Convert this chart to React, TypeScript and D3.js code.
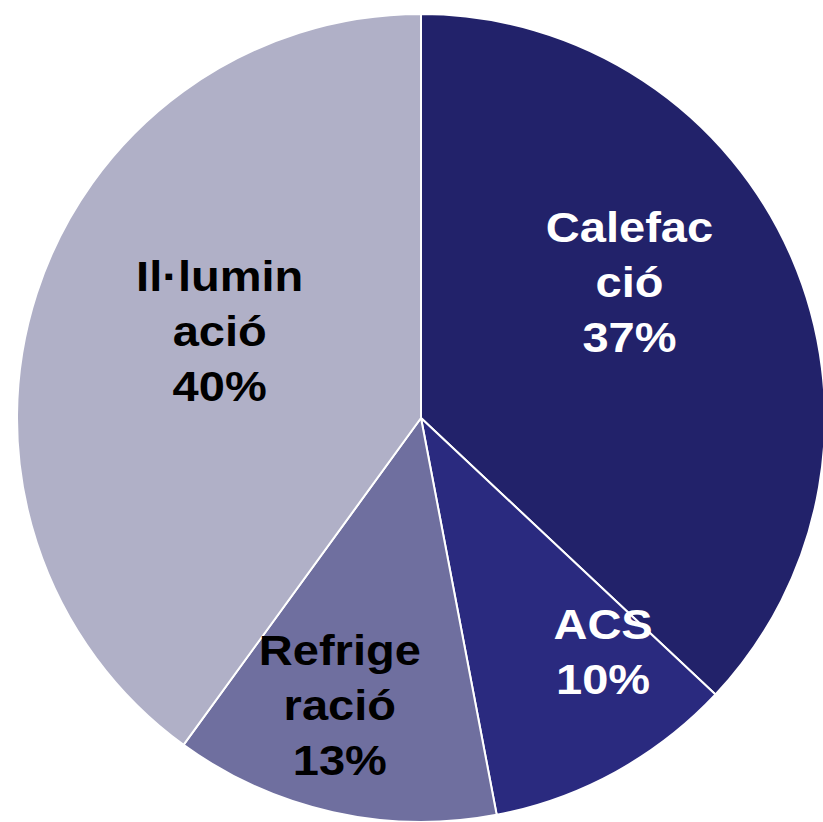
import React, { useEffect, useRef } from 'react';
import * as d3 from 'd3';

// dades del gràfic
const categories = ['Calefacció', 'ACS', 'Refrigeració', 'Il·luminació'];
const values = [37, 10, 13, 40];
const labelLines = [
  ['Calefac', 'ció', '37%'],
  ['ACS', '10%'],
  ['Refrige', 'ració', '13%'],
  ['Il·lumin', 'ació', '40%'],
];

const colors = ['#22226a', '#2a2a7f', '#6f6f9f', '#b0b0c7'];
const textColors = ['#ffffff', '#ffffff', '#000000', '#000000'];
// posició de les etiquetes: desplaçament d'angle (graus) i fracció del radi
const labelPlace = [
  { shift: -9.7, frac: 0.616 },
  { shift: -9.2, frac: 0.732 },
  { shift: 3.2, frac: 0.738 },
  { shift: 5.4, frac: 0.543 },
];

const App = () => {
  const svgRef = useRef(null);

  useEffect(() => {
    d3.select(svgRef.current).selectAll('*').remove();

    const width = 823;
    const height = 822;
    const cx = 421;
    const cy = 418;
    const radius = 404;

    const svg = d3
      .select(svgRef.current)
      .attr('width', width)
      .attr('height', height)
      .append('g')
      .attr('transform', `translate(${cx},${cy})`);

    const pie = d3
      .pie<number>()
      .sort(null)
      .value((d) => d);

    const arcs = pie(values);

    const arc = d3.arc<d3.PieArcDatum<number>>().innerRadius(0).outerRadius(radius);

    svg
      .selectAll('path.slice')
      .data(arcs)
      .enter()
      .append('path')
      .attr('class', 'slice')
      .attr('d', arc)
      .attr('fill', (d, i) => colors[i])
      .attr('stroke', '#ffffff')
      .attr('stroke-width', 2)
      .attr('stroke-linejoin', 'round');

    // etiquetes
    const lineH = 55;
    arcs.forEach((d, i) => {
      const mid = (d.startAngle + d.endAngle) / 2 + (labelPlace[i].shift * Math.PI) / 180;
      const r = radius * labelPlace[i].frac;
      const x = Math.sin(mid) * r;
      const y = -Math.cos(mid) * r;
      const lines = labelLines[i];
      const g = svg
        .append('g')
        .attr('transform', `translate(${x},${y}) scale(1.12,1)`);
      g.append('title').text(categories[i]);
      lines.forEach((t, j) => {
        g.append('text')
          .attr('x', 0)
          .attr('y', (j - (lines.length - 1) / 2) * lineH + 15)
          .attr('text-anchor', 'middle')
          .attr('font-family', 'Liberation Sans, Arial, sans-serif')
          .attr('font-weight', 'bold')
          .attr('font-size', 42)
          .attr('fill', textColors[i])
          .text(t);
      });
    });
  }, []);

  return (
    <div style={{ position: 'absolute', left: 0, top: 0 }}>
      <svg ref={svgRef} style={{ display: 'block' }}></svg>
    </div>
  );
};

export default App;
